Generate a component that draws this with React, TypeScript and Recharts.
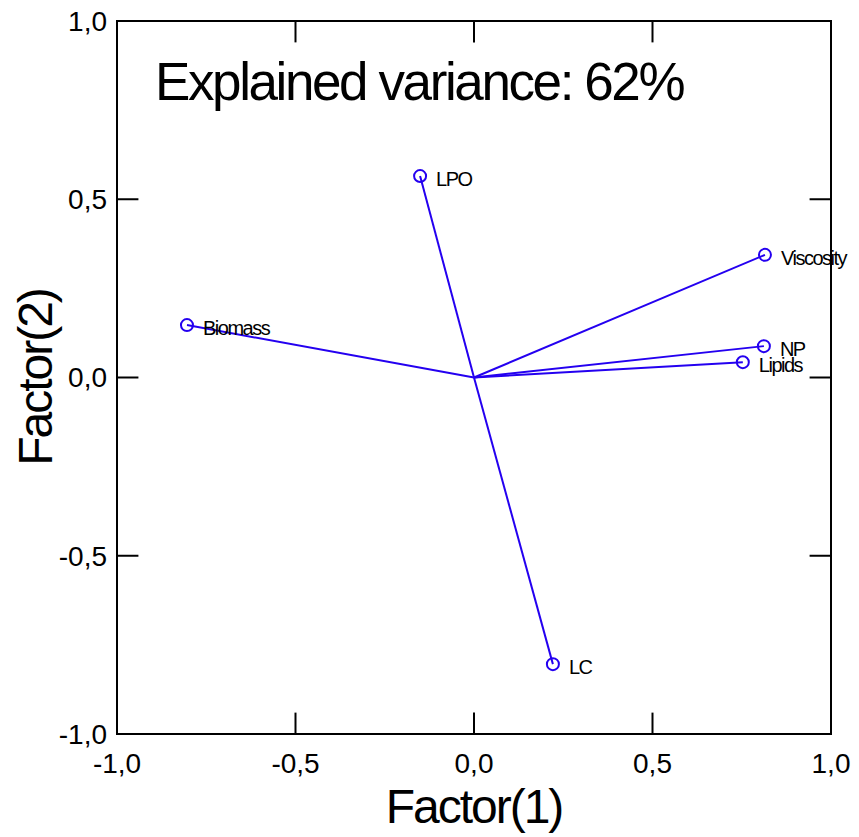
import { ScatterChart, Scatter, XAxis, YAxis, ReferenceArea, ReferenceLine } from 'recharts';

const variables = ['LPO', 'Viscosity', 'Biomass', 'NP', 'Lipids', 'LC'];
const factor1 = [-0.151, 0.815, -0.804, 0.812, 0.753, 0.221];
const factor2 = [0.565, 0.344, 0.147, 0.088, 0.043, -0.804];
const axisTicks = [-1, -0.5, 0, 0.5, 1];
const title = 'Explained variance: 62%';

const BLUE = '#2400f0';
const FONT = '"Liberation Sans", Arial, sans-serif';
const TICK_LEN = 0.06;

const fmt = (v: number) => v.toFixed(1).replace('.', ',');

function VectorEnd(props: any) {
  const { cx, cy, payload } = props;
  if (!payload || !payload.name || cx == null) return <g />;
  return (
    <g>
      <circle cx={cx} cy={cy} r={6} fill="none" stroke={BLUE} strokeWidth={2} />
      <text x={cx + 16} y={cy + 10} fontSize={20} fontFamily={FONT} letterSpacing={-1.5} fill="#000">
        {payload.name}
      </text>
    </g>
  );
}

export default function App() {
  const vectors = variables.map((name, i) => [
    { x: 0, y: 0 },
    { x: factor1[i], y: factor2[i], name },
  ]);

  const tickSegs: Array<[{ x: number; y: number }, { x: number; y: number }]> = [];
  axisTicks.forEach((v) => {
    tickSegs.push([{ x: v, y: -1 }, { x: v, y: -1 + TICK_LEN }]);
    tickSegs.push([{ x: v, y: 1 }, { x: v, y: 1 - TICK_LEN }]);
    tickSegs.push([{ x: -1, y: v }, { x: -1 + TICK_LEN, y: v }]);
    tickSegs.push([{ x: 1, y: v }, { x: 1 - TICK_LEN, y: v }]);
  });

  return (
    <div style={{ position: 'absolute', left: 0, top: 0, background: '#fff' }}>
      <ScatterChart width={859} height={837} margin={{ top: 21, right: 28, bottom: 0, left: 0 }}>
        <XAxis
          type="number"
          dataKey="x"
          domain={[-1, 1]}
          ticks={axisTicks}
          interval={0}
          tickFormatter={fmt}
          axisLine={false}
          tickLine={false}
          tickSize={0}
          tickMargin={19}
          height={103}
          tick={{ fill: '#000', fontSize: 28, fontFamily: FONT }}
          label={{
            value: 'Factor(1)',
            position: 'insideBottom',
            offset: 14,
            style: { fill: '#000', fontSize: 48, fontFamily: FONT, letterSpacing: -2 },
          }}
        />
        <YAxis
          type="number"
          dataKey="y"
          domain={[-1, 1]}
          ticks={axisTicks}
          interval={0}
          tickFormatter={fmt}
          axisLine={false}
          tickLine={false}
          tickSize={0}
          tickMargin={10}
          width={117}
          tick={{ fill: '#000', fontSize: 28, fontFamily: FONT }}
          label={{
            value: 'Factor(2)',
            angle: -90,
            position: 'insideLeft',
            offset: 35,
            style: { fill: '#000', fontSize: 48, fontFamily: FONT, letterSpacing: -2, textAnchor: 'middle' },
          }}
        />
        <ReferenceArea
          x1={-1}
          x2={1}
          y1={-1}
          y2={1}
          fill="none"
          fillOpacity={0}
          stroke="#000"
          strokeWidth={2}
          label={(p: any) => {
            const vb = p.viewBox || {};
            return (
              <text x={(vb.x || 0) + 38} y={(vb.y || 0) + 79} fontSize={53} fontFamily={FONT} letterSpacing={-2.4} fill="#000">
                {title}
              </text>
            );
          }}
        />
        {tickSegs.map((seg, i) => (
          <ReferenceLine key={`t${i}`} segment={seg} stroke="#000" strokeWidth={2} />
        ))}
        {vectors.map((data, i) => (
          <Scatter
            key={variables[i]}
            data={data}
            line={{ stroke: BLUE, strokeWidth: 2 }}
            lineType="joint"
            fill={BLUE}
            shape={VectorEnd}
            isAnimationActive={false}
          />
        ))}
      </ScatterChart>
    </div>
  );
}
